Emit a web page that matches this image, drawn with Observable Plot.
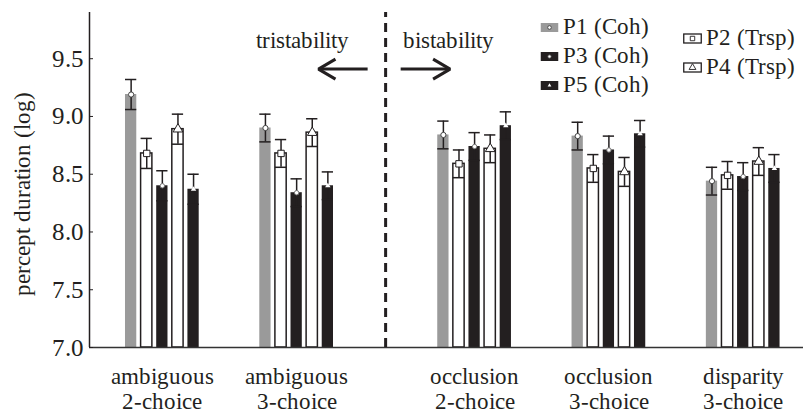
<!DOCTYPE html>
<html><head><meta charset="utf-8">
<script src="https://cdn.jsdelivr.net/npm/d3@7"></script>
<script src="https://cdn.jsdelivr.net/npm/@observablehq/plot@0.6"></script>
<style>
@font-face{font-family:"ChartSerif";src:local("Liberation Serif"),local("LiberationSerif"),local("LiberationSerif-Regular"),local("Times New Roman"),local("TimesNewRomanPSMT"),local("Nimbus Roman"),local("NimbusRoman-Regular"),local("DejaVu Serif"),local("DejaVuSerif"),local("FreeSerif"),local("Tinos");}
body{margin:0;background:#fff;}
#wrap{position:relative;width:803px;height:414px;color:#231f20;font-family:"ChartSerif","Liberation Serif",serif;}
#wrap svg, #wrap svg text{font-family:"ChartSerif","Liberation Serif",serif !important;}
.leg{position:absolute;display:flex;align-items:center;height:28px;font-size:23px;white-space:nowrap;line-height:28px;}
.leg svg{margin-right:4px;}
</style></head><body><div id="wrap"></div>
<script>
// ---- data ----
const categories = ["ambiguous\n2-choice", "ambiguous\n3-choice", "occlusion\n2-choice", "occlusion\n3-choice", "disparity\n3-choice"];
const seriesNames = ["P1 (Coh)", "P2 (Trsp)", "P3 (Coh)", "P4 (Trsp)", "P5 (Coh)"];
const P1 = [9.19, 8.90, 8.84, 8.83, 8.44];
const P2 = [8.68, 8.68, 8.59, 8.55, 8.49];
const P3 = [8.40, 8.34, 8.74, 8.71, 8.48];
const P4 = [8.89, 8.86, 8.72, 8.52, 8.61];
const P5 = [8.37, 8.40, 8.92, 8.85, 8.55];
const P1err = [0.13, 0.12, 0.12, 0.12, 0.12];
const P2err = [0.13, 0.12, 0.12, 0.12, 0.12];
const P3err = [0.13, 0.12, 0.12, 0.12, 0.12];
const P4err = [0.13, 0.12, 0.12, 0.125, 0.12];
const P5err = [0.13, 0.12, 0.12, 0.115, 0.12];
const yTicks = [7.0, 7.5, 8.0, 8.5, 9.0, 9.5];
const annotations = ["tristability", "bistability"];
const yLabel = "percept duration (log)";

// ---- styles ----
const ink = "#231f20";
const styles = [
  {fill: "#9a9a9a", stroke: "none", symbol: "circle", r: 2.6, mfill: "white", mstroke: "#444"},
  {fill: "white", stroke: ink, symbol: "square", r: 3.6, mfill: "white", mstroke: ink},
  {fill: ink, stroke: "none", symbol: "circle", r: 2.2, mfill: "white", mstroke: "#777"},
  {fill: "white", stroke: ink, symbol: "triangle", r: 3.6, mfill: "white", mstroke: ink},
  {fill: ink, stroke: "none", symbol: "triangle", r: 2.0, mfill: "white", mstroke: "none"}
];
const values = [P1, P2, P3, P4, P5];
const errs = [P1err, P2err, P3err, P4err, P5err];

// layout: group slots with an extra gap at the tristability/bistability divide
const slot = i => i + (i >= 2 ? 0.325 : 0);
const barStep = 0.1162, barW = 0.084;
const pxX = 134.3, pxY = 115.5; // pixels per data unit (for annotation geometry)
const rows = [];
categories.forEach((c, i) => seriesNames.forEach((s, j) => {
  rows.push({cat: c, series: j, value: values[j][i], err: errs[j][i], xc: slot(i) + (j - 2) * barStep});
}));
const divX = (slot(1) + slot(2)) / 2;
const xDomain = [-0.5424, 4.774];
const yDomain = [7, 9.9];

const marks = [];
// bars
styles.forEach((st, j) => {
  marks.push(Plot.rectY(rows.filter(d => d.series === j), {
    x1: d => d.xc - barW / 2, x2: d => d.xc + barW / 2, y1: 7, y2: "value",
    fill: st.fill, stroke: st.stroke, strokeWidth: 1.5
  }));
});
// error bars
marks.push(Plot.ruleX(rows, {x: "xc", y1: d => d.value - d.err, y2: d => d.value + d.err, stroke: ink, strokeWidth: 1.5}));
marks.push(Plot.ruleY(rows, {y: d => d.value + d.err, x1: d => d.xc - barW / 2, x2: d => d.xc + barW / 2, stroke: ink, strokeWidth: 1.5}));
marks.push(Plot.ruleY(rows, {y: d => d.value - d.err, x1: d => d.xc - barW / 2, x2: d => d.xc + barW / 2, stroke: ink, strokeWidth: 1.5}));
// markers
styles.forEach((st, j) => {
  marks.push(Plot.dot(rows.filter(d => d.series === j), {
    x: "xc", y: "value", symbol: st.symbol, r: st.r, fill: st.mfill, stroke: st.mstroke, strokeWidth: 1
  }));
});
// axes
marks.push(Plot.ruleY([7], {stroke: "#333", strokeWidth: 1.6}));
marks.push(Plot.ruleX([xDomain[0]], {y1: yDomain[0], y2: yDomain[1], stroke: ink, strokeWidth: 1.5}));
marks.push(Plot.axisY(yTicks, {tickSize: -4, tickPadding: 10, tickFormat: d3.format(".1f"), fontSize: 25, label: null, fill: ink, stroke: ink}));
marks.push(Plot.text(categories.map((c, i) => ({c, x: slot(i)})), {
  x: "x", y: 7, text: "c", lineAnchor: "top", dy: 19, lineHeight: 1.08, fontSize: 23, fill: ink
}));
marks.push(Plot.text([yLabel], {frameAnchor: "left", textAnchor: "middle", lineAnchor: "middle", rotate: -90, dx: -67, dy: 13.5, fontSize: 23, fill: ink}));
// divider + annotations
marks.push(Plot.ruleX([divX], {y1: yDomain[0], y2: yDomain[1], stroke: ink, strokeWidth: 3, strokeDasharray: "9,6"}));
const arrowY = 9.41;
const arrows = [
  {tip: divX - 0.50, tail: divX - 0.134, dir: -1},
  {tip: divX + 0.48, tail: divX + 0.112, dir: 1}
];
marks.push(Plot.link(arrows, {x1: "tail", x2: d => d.tip - d.dir * 1.5 / pxX, y1: arrowY, y2: arrowY, stroke: ink, strokeWidth: 3}));
arrows.forEach(a => {
  const wx = a.tip - a.dir * 17 / pxX, wy = 10 / pxY;
  marks.push(Plot.line([{x: wx, y: arrowY + wy}, {x: a.tip, y: arrowY}, {x: wx, y: arrowY - wy}], {
    x: "x", y: "y", stroke: ink, strokeWidth: 3, strokeLinejoin: "miter", strokeLinecap: "butt"
  }));
});
marks.push(Plot.text([{t: annotations[0], x: divX - 0.618}, {t: annotations[1], x: divX + 0.469}], {
  x: "x", y: 9.597, text: "t", lineAnchor: "bottom", fontSize: 23, fill: ink
}));

const chart = Plot.plot({
  width: 803, height: 414,
  marginLeft: 89, marginRight: 0, marginTop: 12, marginBottom: 67,
  style: {color: ink, background: "white"},
  x: {type: "linear", domain: xDomain, axis: null},
  y: {domain: yDomain, axis: null},
  marks
});
const wrap = document.getElementById("wrap");
wrap.appendChild(chart);

// legend overlay
function swatch(j) {
  const st = styles[j];
  const ns = "http://www.w3.org/2000/svg";
  const svg = document.createElementNS(ns, "svg");
  svg.setAttribute("width", 19); svg.setAttribute("height", 11);
  const r = document.createElementNS(ns, "rect");
  r.setAttribute("x", 0.75); r.setAttribute("y", 1); r.setAttribute("width", 17.5); r.setAttribute("height", 9);
  r.setAttribute("fill", st.fill); r.setAttribute("stroke", st.stroke === "none" ? "none" : ink); r.setAttribute("stroke-width", 1.3);
  svg.appendChild(r);
  const sym = d3.symbol(st.symbol === "circle" ? d3.symbolCircle : st.symbol === "square" ? d3.symbolSquare : d3.symbolTriangle, Math.PI * (st.r * 0.7) ** 2)();
  const p = document.createElementNS(ns, "path");
  p.setAttribute("d", sym); p.setAttribute("transform", "translate(9.5,5.5)");
  p.setAttribute("fill", st.mfill); p.setAttribute("stroke", st.mstroke); p.setAttribute("stroke-width", 0.9);
  svg.appendChild(p);
  return svg;
}
const legendPlaces = [[540, 29], [683, 40], [540, 58], [683, 69], [540, 87]];
seriesNames.forEach((s, j) => {
  const d = document.createElement("div");
  d.className = "leg";
  d.style.left = legendPlaces[j][0] + "px";
  d.style.top = (legendPlaces[j][1] - 16) + "px";
  d.appendChild(swatch(j));
  const t = document.createElement("span"); t.textContent = s;
  d.appendChild(t);
  wrap.appendChild(d);
});
</script></body></html>
